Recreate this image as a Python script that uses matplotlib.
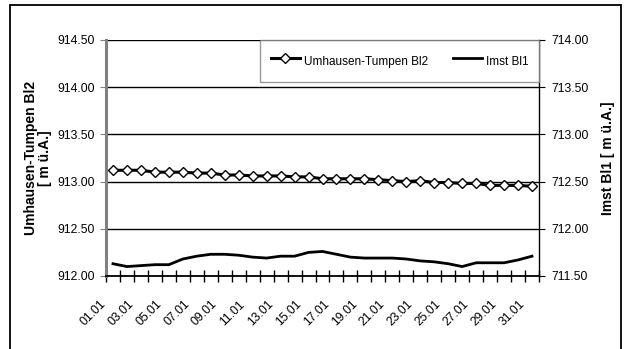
import matplotlib
matplotlib.use("Agg")
import matplotlib.pyplot as plt
from matplotlib.patches import Rectangle
from matplotlib.transforms import ScaledTranslation
import numpy as np

plt.rcParams['font.family'] = ['Liberation Sans', 'DejaVu Sans']

# daily values, January
days = ["%02d.01" % d for d in range(1, 32)]
umhausen = [913.12, 913.12, 913.12, 913.10, 913.10, 913.10, 913.09, 913.09,
            913.07, 913.07, 913.06, 913.06, 913.06, 913.05, 913.05, 913.03,
            913.03, 913.03, 913.03, 913.02, 913.01, 913.00, 913.01, 912.99,
            912.99, 912.98, 912.98, 912.96, 912.96, 912.96, 912.95]
imst = [711.63, 711.60, 711.61, 711.62, 711.62, 711.68, 711.71, 711.73,
        711.73, 711.72, 711.70, 711.69, 711.71, 711.71, 711.75, 711.76,
        711.73, 711.70, 711.69, 711.69, 711.69, 711.68, 711.66, 711.65,
        711.63, 711.60, 711.64, 711.64, 711.64, 711.67, 711.71]
left_ticks = [912.0, 912.5, 913.0, 913.5, 914.0, 914.5]
right_ticks = [711.5, 712.0, 712.5, 713.0, 713.5, 714.0]

fig = plt.figure(figsize=(6.27, 3.49), dpi=100)
ax = fig.add_axes([106/627, 1-276/349, 433/627, 236/349])
ax2 = ax.twinx()

x = np.arange(len(days))

l1, = ax.plot(x, umhausen, color='black', lw=2.2, marker='D', ms=5,
              mfc='white', mec='black', mew=1, label='Umhausen-Tumpen Bl2', zorder=3)
l2, = ax2.plot(x, imst, color='black', lw=2.0, label='Imst Bl1')

ax.set_xlim(-0.5, len(days) - 0.5)
ax.set_ylim(912.0, 914.5)
ax2.set_ylim(711.5, 714.0)
ax.set_yticks(left_ticks)
ax.set_yticklabels(["%.2f" % v for v in left_ticks])
ax2.set_yticks(right_ticks)
ax2.set_yticklabels(["%.2f" % v for v in right_ticks])
ax.grid(axis='y', color='black', lw=1)
ax.set_axisbelow(True)

# labels every second day, tick marks at category boundaries
ax.set_xticks(x[::2])
ax.set_xticklabels(days[::2], rotation=45, ha='right', fontsize=8.8)
ax.set_xticks(np.arange(-0.5, len(days)), minor=True)
ax.tick_params(axis='x', which='major', length=0, pad=16)
ax.tick_params(axis='x', which='minor', direction='inout', length=8, width=1, color='black')
ax.tick_params(axis='y', labelsize=8.8, length=4, color='#808080', pad=4)
ax2.tick_params(axis='y', labelsize=8.8, length=4, color='black', pad=5)
shift = ScaledTranslation(-5/100, 0, fig.dpi_scale_trans)
for lbl in ax.get_xticklabels():
    lbl.set_transform(lbl.get_transform() + shift)

for a in (ax, ax2):
    a.spines['top'].set_visible(False)
ax.spines['left'].set_color('#808080')
ax.spines['left'].set_linewidth(2.2)
ax.spines['bottom'].set_linewidth(1.3)
ax2.spines['left'].set_visible(False)
ax2.spines['bottom'].set_visible(False)
ax2.spines['right'].set_linewidth(1.0)
ax.spines['right'].set_visible(False)

ax.set_ylabel("Umhausen-Tumpen Bl2\n[ m ü.A.]", fontsize=10, fontweight='bold',
              linespacing=1.0, labelpad=4)
ax2.set_ylabel("Imst Bl1 [ m ü.A.]", fontsize=10, fontweight='bold', labelpad=9)

leg = ax2.legend(handles=[l1, l2], loc='upper right', bbox_to_anchor=(1, 1),
                 ncol=2, fontsize=8.5, frameon=True, fancybox=False,
                 borderaxespad=0, borderpad=0.9, handleheight=2.3,
                 handlelength=2.5, handletextpad=0.3, columnspacing=2.1)
leg.get_frame().set_edgecolor('#808080')
leg.get_frame().set_linewidth(1.0)

# outer chart frame
fig.patches.append(Rectangle((10/627, -0.1), 611/627, 1.1 - 5/349,
                             transform=fig.transFigure, fill=False,
                             edgecolor='black', lw=1.3))

fig.savefig("out.png", dpi=100)
